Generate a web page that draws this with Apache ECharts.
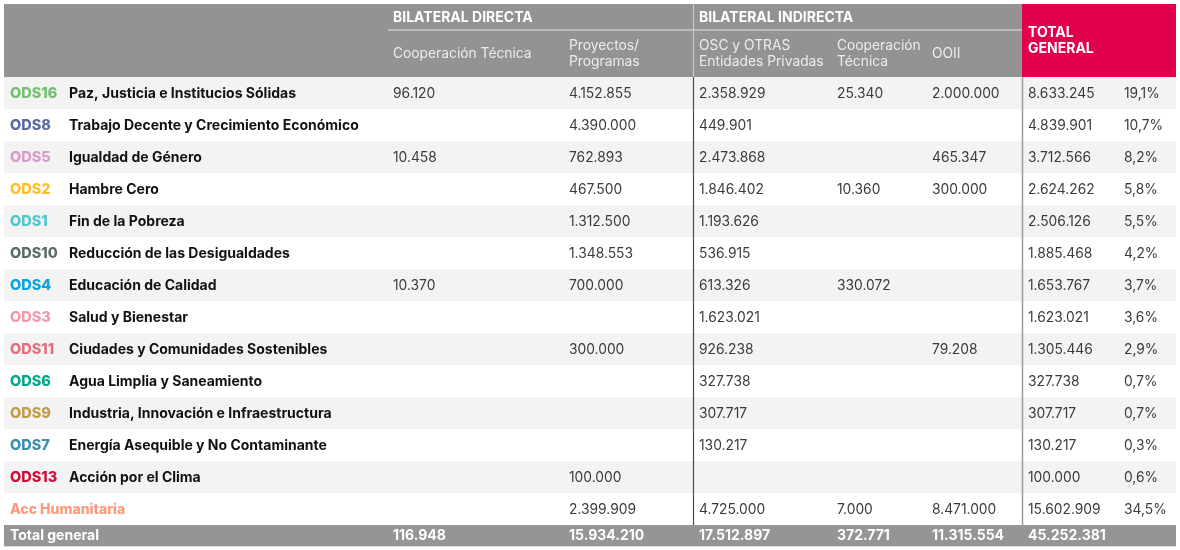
<!DOCTYPE html>
<html>
<head>
<meta charset="utf-8">
<script src="https://cdn.jsdelivr.net/npm/echarts@6/dist/echarts.min.js"></script>
<style>
html,body{margin:0;padding:0;background:#fff;}
#main{width:1180px;height:550px;}
</style>
</head>
<body>
<div id="main"></div>
<script>
// ---------- DATA ----------
const codes = ['ODS16','ODS8','ODS5','ODS2','ODS1','ODS10','ODS4','ODS3','ODS11','ODS6','ODS9','ODS7','ODS13','Acc Humanitaria'];
const names = ['Paz, Justicia e Institucios Sólidas','Trabajo Decente y Crecimiento Económico','Igualdad de Género','Hambre Cero','Fin de la Pobreza','Reducción de las Desigualdades','Educación de Calidad','Salud y Bienestar','Ciudades y Comunidades Sostenibles','Agua Limplia y Saneamiento','Industria, Innovación e Infraestructura','Energía Asequible y No Contaminante','Acción por el Clima',''];
const coopTecnicaDirecta = [96120,null,10458,null,null,null,10370,null,null,null,null,null,null,null];
const proyectosProgramas = [4152855,4390000,762893,467500,1312500,1348553,700000,null,300000,null,null,null,100000,2399909];
const oscEntidadesPrivadas = [2358929,449901,2473868,1846402,1193626,536915,613326,1623021,926238,327738,307717,130217,null,4725000];
const coopTecnicaIndirecta = [25340,null,null,10360,null,null,330072,null,null,null,null,null,null,7000];
const ooii = [2000000,null,465347,300000,null,null,null,null,79208,null,null,null,null,8471000];
const totalGeneral = [8633245,4839901,3712566,2624262,2506126,1885468,1653767,1623021,1305446,327738,307717,130217,100000,15602909];
const porcentaje = ['19,1%','10,7%','8,2%','5,8%','5,5%','4,2%','3,7%','3,6%','2,9%','0,7%','0,7%','0,3%','0,6%','34,5%'];
const totalRowLabel = 'Total general';
const totalRowValues = [116948,15934210,17512897,372771,11315554,45252381];
const groupHeaders = ['BILATERAL DIRECTA','BILATERAL INDIRECTA','TOTAL\nGENERAL'];
const subHeaders = ['Cooperación Técnica','Proyectos/\nProgramas','OSC y OTRAS\nEntidades Privadas','Cooperación\nTécnica','OOII'];

// ---------- STYLE / LAYOUT ----------
const codeColors = ['#72c06e','#5a69a5','#d99bc9','#fbbf2e','#4ec6ce','#5c6d69','#0aa3df','#ee9bab','#e0707f','#00a789','#c39a4b','#3d8cb0','#cf0f3a','#fb9b7b'];
const FONT = 'Inter, "Open Sans", sans-serif';
const colX = {code:6, name:65, c1:389, c2:565, c3:695, c4:833, c5:928, tot:1024, pct:1120};
const ROW_PX = 32, HEADER_PX = 73, TOTAL_PX = 21;
const HDR = HEADER_PX/ROW_PX, TOT = TOTAL_PX/ROW_PX;
const N = codes.length;
const NUM_SIZE = 13.8, NAME_SIZE = 14, CODE_SIZE = 14.5;

function fmt(v){ return v==null ? '' : String(v).replace(/\B(?=(\d{3})+(?!\d))/g,'.'); }

const chart = echarts.init(document.getElementById('main'), null, {renderer:'canvas'});

function txt(x,y,text,opt){
  return {type:'text', style:Object.assign({x:x,y:y,text:text,fill:'#3a3a3a',fontSize:NUM_SIZE,fontFamily:FONT,fontWeight:'normal',verticalAlign:'middle',align:'left'},opt||{})};
}

function renderBody(params, api){
  const i = api.value(1);
  const X = v => api.coord([v,0])[0];
  const yTop = api.coord([0,i])[1];
  const yBot = api.coord([0,i+1])[1];
  const yc = (yTop+yBot)/2 + 1;
  const ch = [];
  ch.push({type:'rect', shape:{x:X(0), y:yTop, width:X(1172)-X(0), height:yBot-yTop}, style:{fill: i%2===0 ? '#f3f3f3' : '#ffffff'}});
  ch.push(txt(X(colX.code), yc, codes[i], {fill:codeColors[i], fontWeight:800, fontSize: i===N-1 ? NAME_SIZE : CODE_SIZE}));
  ch.push(txt(X(colX.name), yc, names[i], {fill:'#111', fontWeight:'bold', fontSize:NAME_SIZE}));
  ch.push(txt(X(colX.c1), yc, fmt(coopTecnicaDirecta[i])));
  ch.push(txt(X(colX.c2), yc, fmt(proyectosProgramas[i])));
  ch.push(txt(X(colX.c3), yc, fmt(oscEntidadesPrivadas[i])));
  ch.push(txt(X(colX.c4), yc, fmt(coopTecnicaIndirecta[i])));
  ch.push(txt(X(colX.c5), yc, fmt(ooii[i])));
  ch.push(txt(X(colX.tot), yc, fmt(totalGeneral[i])));
  ch.push(txt(X(colX.pct), yc, porcentaje[i]));
  // vertical separators
  ch.push({type:'line', shape:{x1:X(689.5), y1:yTop, x2:X(689.5), y2:yBot}, style:{stroke:'#4a4a4a', lineWidth:1.2}});
  ch.push({type:'line', shape:{x1:X(1018.5), y1:yTop, x2:X(1018.5), y2:yBot}, style:{stroke:'#9a9a9a', lineWidth:1.5}});
  return {type:'group', children:ch};
}

function renderHeader(params, api){
  const X = v => api.coord([v,0])[0];
  const yTop = api.coord([0,-HDR])[1];
  const yBot = api.coord([0,0])[1];
  const ch = [];
  ch.push({type:'rect', shape:{x:X(0), y:yTop, width:X(1018)-X(0), height:yBot-yTop}, style:{fill:'#939393'}});
  ch.push({type:'rect', shape:{x:X(1018), y:yTop, width:X(1172)-X(1018), height:yBot-yTop}, style:{fill:'#e1004c'}});
  const yLine = yTop + 26;
  ch.push({type:'line', shape:{x1:X(384), y1:yLine, x2:X(1018), y2:yLine}, style:{stroke:'#c9c9c9', lineWidth:1.5}});
  ch.push({type:'line', shape:{x1:X(689.5), y1:yTop, x2:X(689.5), y2:yBot}, style:{stroke:'#c9c9c9', lineWidth:1.2}});
  const yG = yTop + 14;
  const g = {fill:'#fff', fontWeight:'bold', fontSize:14};
  ch.push(txt(X(colX.c1), yG, groupHeaders[0], g));
  ch.push(txt(X(colX.c3), yG, groupHeaders[1], g));
  ch.push(txt(X(colX.tot), yTop + 37, groupHeaders[2], Object.assign({lineHeight:16}, g)));
  const ySub = yTop + 50;
  const subX = [colX.c1, colX.c2, colX.c3, colX.c4, colX.c5];
  subHeaders.forEach((s,k)=>{
    ch.push(txt(X(subX[k]), ySub, s, {fill:'#ececec', fontSize:13.8, lineHeight:16}));
  });
  return {type:'group', children:ch};
}

function renderTotal(params, api){
  const X = v => api.coord([v,0])[0];
  const yTop = api.coord([0,N])[1];
  const yBot = api.coord([0,N+TOT])[1];
  const yc = (yTop+yBot)/2;
  const ch = [];
  ch.push({type:'rect', shape:{x:X(0), y:yTop, width:X(1172)-X(0), height:yBot-yTop}, style:{fill:'#959595'}});
  ch.push({type:'line', shape:{x1:X(0), y1:yBot+0.5, x2:X(1172), y2:yBot+0.5}, style:{stroke:'#dcdcdc', lineWidth:1}});
  const bold = {fill:'#fff', fontWeight:'bold', fontSize:14};
  ch.push(txt(X(colX.code), yc, totalRowLabel, bold));
  const xs = [colX.c1, colX.c2, colX.c3, colX.c4, colX.c5, colX.tot];
  totalRowValues.forEach((v,k)=>ch.push(txt(X(xs[k]), yc, fmt(v), bold)));
  return {type:'group', children:ch};
}

const option = {
  animation:false,
  grid:{left:4, top:4, width:1172, height:HEADER_PX + N*ROW_PX + TOTAL_PX},
  xAxis:{type:'value', min:0, max:1172, show:false},
  yAxis:{type:'value', inverse:true, min:-HDR, max:N+TOT, show:false},
  series:[
    {type:'custom', coordinateSystem:'cartesian2d', renderItem:renderHeader, data:[[0,-1]], encode:{x:0,y:1}, silent:true, clip:false},
    {type:'custom', coordinateSystem:'cartesian2d', renderItem:renderBody, data:codes.map((c,i)=>[0,i]), encode:{x:0,y:1}, silent:true, clip:false},
    {type:'custom', coordinateSystem:'cartesian2d', renderItem:renderTotal, data:[[0,N]], encode:{x:0,y:1}, silent:true, clip:false}
  ]
};
chart.setOption(option);
</script>
</body>
</html>
